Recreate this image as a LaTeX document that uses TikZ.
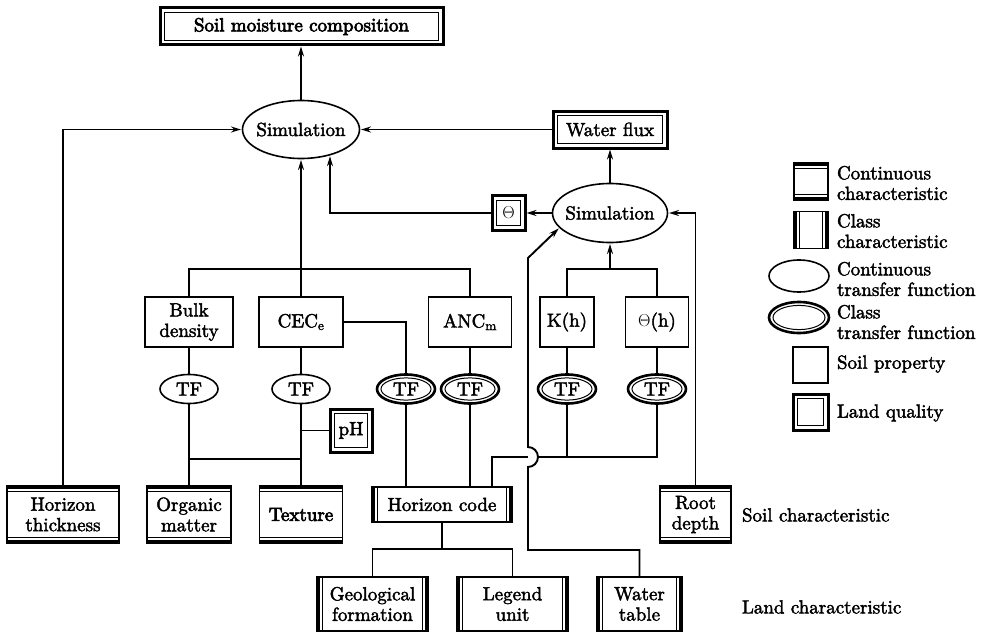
\documentclass[tikz,border=0pt]{standalone}
\usepackage{fontspec}
\setmainfont{lmroman10-regular.otf}[FakeBold=2.2]
\newfontfamily\heavyfont{lmroman10-regular.otf}[FakeBold=3.6]
\usetikzlibrary{arrows.meta,calc,shapes.geometric}

\tikzset{
  every node/.style={font=\fontsize{19}{20.5}\selectfont, align=center,
    inner sep=0pt, outer sep=0pt},
  wire/.style={line width=1.9pt},
  arr/.style={wire, -{Stealth[length=10pt,width=6pt]}, shorten >=1.5pt},
  % plain soil property
  prop/.style={draw, line width=1.6pt},
  % continuous characteristic: double bars at top and bottom
  contchar/.style={draw, line width=1.2pt, append after command={\pgfextra{%
    \let\bn\tikzlastnode
    \draw[line width=3pt] ([yshift=-1.3pt]\bn.north west) -- ([yshift=-1.3pt]\bn.north east);
    \draw[line width=1pt] ([yshift=-5.4pt]\bn.north west) -- ([yshift=-5.4pt]\bn.north east);
    \draw[line width=3pt] ([yshift=1.3pt]\bn.south west) -- ([yshift=1.3pt]\bn.south east);
    \draw[line width=1pt] ([yshift=5.4pt]\bn.south west) -- ([yshift=5.4pt]\bn.south east);
  }}},
  % class characteristic: double bars at left and right
  classchar/.style={draw, line width=1.6pt, append after command={\pgfextra{%
    \let\bn\tikzlastnode
    \draw[line width=3pt] ([xshift=1.3pt]\bn.north west) -- ([xshift=1.3pt]\bn.south west);
    \draw[line width=1pt] ([xshift=5.4pt]\bn.north west) -- ([xshift=5.4pt]\bn.south west);
    \draw[line width=3pt] ([xshift=-1.3pt]\bn.north east) -- ([xshift=-1.3pt]\bn.south east);
    \draw[line width=1pt] ([xshift=-5.4pt]\bn.north east) -- ([xshift=-5.4pt]\bn.south east);
  }}},
  % land quality: thick frame with a thin inner frame
  landq/.style={draw, line width=3pt, append after command={\pgfextra{%
    \let\bn\tikzlastnode
    \draw[line width=1pt] ([shift={(4.6pt,-4.6pt)}]\bn.north west) rectangle ([shift={(-4.6pt,4.6pt)}]\bn.south east);
  }}},
  % transfer functions
  conttf/.style 2 args={ellipse, draw, line width=1.6pt,
    minimum width=2*#1, minimum height=2*#2},
  classtf/.style 2 args={ellipse, draw, line width=2.6pt,
    minimum width=2*#1, minimum height=2*#2, append after command={\pgfextra{%
    \let\bn\tikzlastnode
    \draw[line width=1pt] (\bn.center) ellipse [x radius=#1pt-4pt, y radius=#2pt-3.4pt];
  }}},
  simu/.style={ellipse, draw, line width=1.6pt},
  tag/.style={anchor=west, align=left},
}

\begin{document}
\begin{tikzpicture}[x=1pt, y=-1pt]
\path[fill=white] (0,0) rectangle (988,634);
\useasboundingbox (0,0) rectangle (988,634);

% ---- top part: simulations and their results
\node[landq, minimum width=283, minimum height=37] (smc) at (301.5,26.5) {\heavyfont Soil moisture composition};
\node[simu, minimum width=117, minimum height=58] (s1) at (301,129.5) {\makebox[0pt]{Simulation}};
\node[landq, minimum width=114, minimum height=37] (wf) at (610,129.5) {Water flux};
\node[simu, minimum width=115, minimum height=59] (s2) at (610,213) {\makebox[0pt]{Simulation}};
\node[landq, minimum width=33, minimum height=35] (theta) at (508.5,213) {$\Theta$};

% ---- soil properties
\node[prop, minimum width=88, minimum height=50] (bd) at (189,322) {Bulk\\density};
\node[prop, minimum width=84, minimum height=50] (cec) at (301,322) {CEC$_{\mathrm{e}}$};
\node[prop, minimum width=83, minimum height=50] (anc) at (470,322) {ANC$_{\mathrm{m}}$};
\node[prop, minimum width=54, minimum height=50] (kh) at (567,322) {K(h)};
\node[prop, minimum width=63, minimum height=50] (th) at (657,322) {$\Theta$(h)};

% ---- transfer functions
\node[conttf={29}{14.5}] (tf1) at (189,389) {TF};
\node[conttf={29}{14.5}] (tf2) at (301,389) {TF};
\node[classtf={29}{14.5}] (tf3) at (406,389) {TF};
\node[classtf={29}{14.5}] (tf4) at (470,389) {TF};
\node[classtf={29}{14.5}] (tf5) at (567,389) {TF};
\node[classtf={29}{14.5}] (tf6) at (657,389) {TF};

\node[landq, minimum width=42, minimum height=43] (ph) at (351,430.5) {pH};

% ---- soil characteristics
\node[contchar, minimum width=112, minimum height=57] (ht) at (63,514.5) {Horizon\\thickness};
\node[contchar, minimum width=84, minimum height=57] (om) at (189,514.5) {Organic\\matter};
\node[contchar, minimum width=83, minimum height=57] (tx) at (301,514.5) {\heavyfont Texture};
\node[classchar, minimum width=140, minimum height=35] (hc) at (442,504.5) {Horizon code};
\node[contchar, minimum width=71, minimum height=57] (rd) at (695.5,514.5) {Root\\depth};

% ---- land characteristics
\node[classchar, minimum width=111, minimum height=54] (geo) at (372.5,604) {Geological\\formation};
\node[classchar, minimum width=111, minimum height=54] (lu) at (512.5,604) {Legend\\unit};
\node[classchar, minimum width=85, minimum height=54] (wt) at (639.5,604) {Water\\table};

\node[tag] (slab) at (742,515) {Soil characteristic};
\node[tag] (llab) at (742,607) {Land characteristic};

% ---- connectors
\coordinate (jl) at (301,269);
\coordinate (jr) at (610,269);
\coordinate (jo) at (189,459);
\coordinate (hj) at (442,549);
\coordinate (hopl) at (528,457);
\coordinate (hopr) at (538,457);
\coordinate (hopb) at (528,467);
\coordinate (wtb) at (528,550);
\coordinate (wtk) at (528,258);

\draw[arr] (s1.north) -- (s1.north |- smc.south);
\draw[arr] (ht.north) |- (s1.west);
\draw[arr] (wf.west) -- (s1.east);
\draw[arr] (s2.north) -- (wf.south);
\draw[arr] (s2.west) -- (theta.east);
\draw[arr] (theta.west) -| (s1.-41);
\draw[arr] (rd.north) |- (s2.east);

\draw[wire] (bd.north) |- (jl) -| (anc.north);
\draw[arr] (cec.north) -- (cec.north |- s1.south);
\draw[wire] (kh.north) |- (jr) -| (th.north);
\draw[arr] (jr) -- (s2.south);

\draw[wire] (bd.south) -- (tf1.north);
\draw[wire] (tf1.south) -- (om.north);
\draw[wire] (cec.south) -- (tf2.north);
\draw[wire] (tf2.south) -- (tx.north);
\draw[wire] (jo) -- (jo -| tx.north);
\draw[wire] (ph.west) -- (ph.west -| tx.north);
\draw[wire] (cec.east) -| (tf3.north);
\draw[wire] (anc.south) -- (tf4.north);
\draw[wire] (tf3.south) -- (tf3.south |- hc.north);
\draw[wire] (tf4.south) -- (tf4.south |- hc.north);
\draw[wire] (kh.south) -- (tf5.north);
\draw[wire] (th.south) -- (tf6.north);

\draw[wire] ([xshift=50pt]hc.north) |- (hopl);
\draw[wire] (hopr) -| (tf6.south);
\draw[wire] (tf5.south) -- (tf5.south |- hopr);

\draw[wire] (hc.south) -- (hj);
\draw[wire] (geo.north) |- (hj) -| (lu.north);

\draw[arr] (wt.north) |- (wtb) -- (hopb) arc[start angle=90, end angle=-90, radius=10] -- (wtk) -- (s2.196);

% ---- legend
\node[contchar, minimum width=34, minimum height=37] (lg1) at (811,181.5) {};
\node[tag] (lt1) at (837,183) {Continuous\\characteristic};
\node[classchar, minimum width=34, minimum height=37] (lg2) at (811,230) {};
\node[tag] (lt2) at (837,231) {Class\\characteristic};
\node[conttf={30}{16}] (lg3) at (799,276) {};
\node[tag] (lt3) at (837,279) {Continuous\\transfer function};
\node[classtf={30}{15.5}] (lg4) at (799,317.5) {};
\node[tag] (lt4) at (837,322) {Class\\transfer function};
\node[prop, minimum width=35, minimum height=36] (lg5) at (810.5,365) {};
\node[tag] (lt5) at (837,364) {Soil property};
\node[landq, minimum width=35, minimum height=36] (lg6) at (810.5,412) {};
\node[tag] (lt6) at (837,413) {Land quality};
\end{tikzpicture}
\end{document}
